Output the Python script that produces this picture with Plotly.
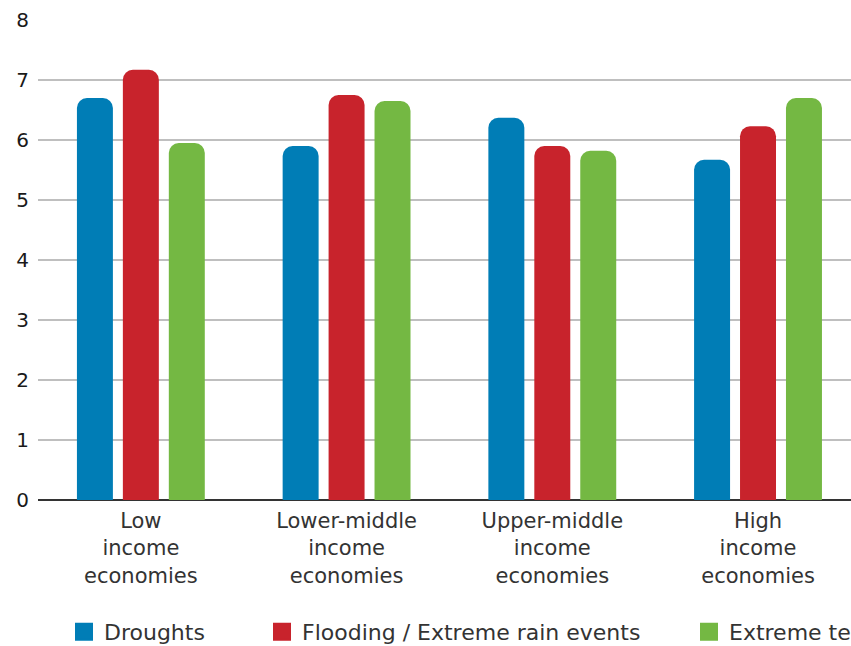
import plotly.graph_objects as go

categories = ["Low<br>income<br>economies", "Lower-middle<br>income<br>economies",
              "Upper-middle<br>income<br>economies", "High<br>income<br>economies"]
droughts = [6.70, 5.90, 6.37, 5.67]
flooding = [7.17, 6.75, 5.90, 6.23]
extreme_temp = [5.95, 6.65, 5.82, 6.70]
series_names = ["Droughts", "Flooding / Extreme rain events", "Extreme temperatures"]
colors = ["#007DB6", "#C8232C", "#74B843"]
y_ticks = [0, 1, 2, 3, 4, 5, 6, 7, 8]

W, H = 851, 646
ML, MR, MT, MB = 38, 0, 20, 146
pw = W - ML - MR
ph = H - MT - MB

font = "'DejaVu Sans', sans-serif"

fig = go.Figure()
legends = ["legend", "legend2", "legend3"]
for name, vals, col in zip(series_names, [droughts, flooding, extreme_temp], colors):
    fig.add_trace(go.Bar(x=categories, y=vals, name=name, marker_color=col,
                         marker_line_width=0, showlegend=False))
# legend-only entries (larger square keys)
for name, col, lg in zip(series_names, colors, legends):
    fig.add_trace(go.Scatter(x=[None], y=[None], mode="markers", name=name, legend=lg,
                             marker=dict(symbol="square", size=16, color=col,
                                         line=dict(color=col, width=2))))

legend_text_px = [104, 302, 729]
legend_common = dict(orientation="h", yanchor="middle", y=-(632 - (MT + ph)) / ph,
                     xanchor="left", font=dict(size=22, color="#333333", family=font),
                     bgcolor="rgba(0,0,0,0)", itemwidth=30, itemsizing="trace")

layout_legends = {}
for lg, px in zip(legends, legend_text_px):
    d = dict(legend_common)
    d["x"] = (px - 40 - ML) / pw
    layout_legends[lg] = d

fig.update_layout(
    width=W, height=H,
    margin=dict(l=ML, r=MR, t=MT, b=MB, pad=0, autoexpand=False),
    paper_bgcolor="white", plot_bgcolor="white",
    barmode="group", bargap=0.33, bargroupgap=0.217,
    barcornerradius=10,
    font=dict(family=font, color="#333333", size=21),
    showlegend=True,
    xaxis=dict(range=[-0.5, 3.452], showgrid=False, tickfont=dict(size=21, color="#333333"),
               showline=False, ticks="", fixedrange=True, ticklabelstandoff=6),
    yaxis=dict(range=[0, 8], tickvals=y_ticks, showgrid=True, gridcolor="rgba(0,0,0,0.25)",
               gridwidth=1.5, zeroline=True, zerolinecolor="#333333", zerolinewidth=2,
               layer="above traces", tickfont=dict(size=20, color="#1a1a1a"),
               ticks="", ticklabelstandoff=8, fixedrange=True),
    **layout_legends,
)

fig.write_html("out.html")
